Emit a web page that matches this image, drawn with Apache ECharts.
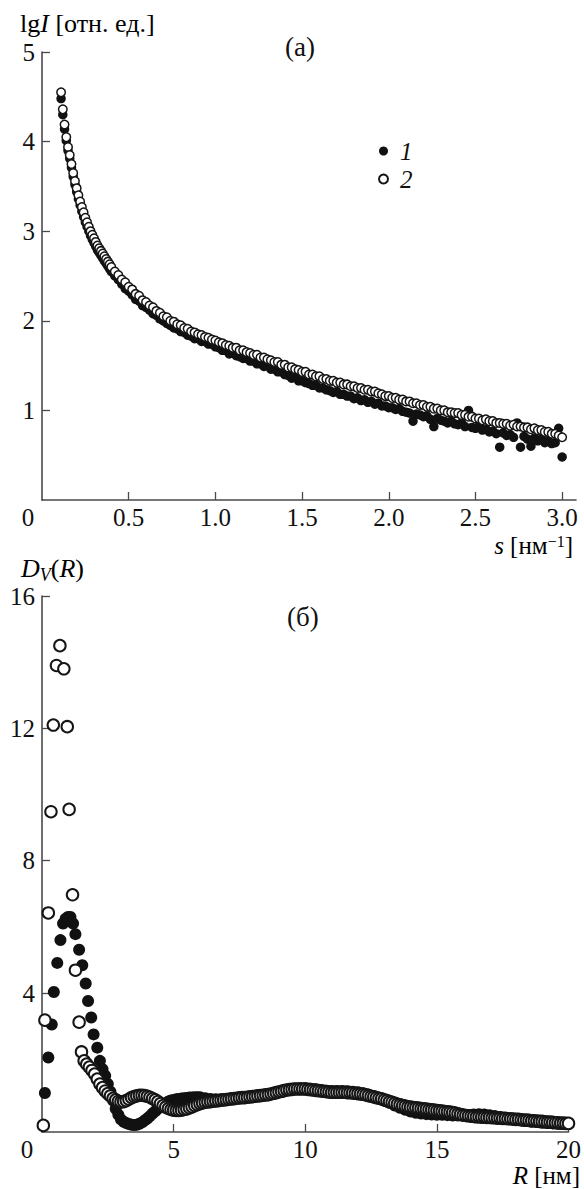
<!DOCTYPE html>
<html><head><meta charset="utf-8">
<script src="https://cdn.jsdelivr.net/npm/echarts@6/dist/echarts.min.js"></script>
<style>html,body{margin:0;padding:0;background:#fff}#c{width:584px;height:1189px}</style>
</head><body><div id="c"></div>
<script>
// ---------- panel (а): lg I vs s ----------
const sTop = [0.11,0.12,0.13,0.14,0.15,0.16,0.17,0.18,0.19,0.20,0.21,0.22,0.23,0.24,0.25,0.26,0.27,0.28,0.29,0.30,
0.31,0.32,0.33,0.34,0.35,0.36,0.37,0.38,0.39,0.40,
0.42,0.44,0.46,0.48,0.50,0.52,0.54,0.56,0.58,0.60,0.62,0.64,0.66,0.68,0.70,0.72,0.74,0.76,0.78,0.80,
0.82,0.84,0.86,0.88,0.90,0.92,0.94,0.96,0.98,1.00,
1.02,1.04,1.06,1.08,1.10,1.12,1.14,1.16,1.18,1.20,1.22,1.24,1.26,1.28,1.30,1.32,1.34,1.36,1.38,1.40,
1.42,1.44,1.46,1.48,1.50,1.52,1.54,1.56,1.58,1.60,1.62,1.64,1.66,1.68,1.70,1.72,1.74,1.76,1.78,1.80,
1.82,1.84,1.86,1.88,1.90,1.92,1.94,1.96,1.98,2.00,
2.02,2.04,2.06,2.08,2.10,2.12,2.14,2.16,2.18,2.20,2.22,2.24,2.26,2.28,2.30,2.32,2.34,2.36,2.38,2.40,
2.42,2.44,2.46,2.48,2.50,2.52,2.54,2.56,2.58,2.60,2.62,2.64,2.66,2.68,2.70,2.72,2.74,2.76,2.78,2.80,
2.82,2.84,2.86,2.88,2.90,2.92,2.94,2.96,2.98,3.00];
// series 2 (open circles)
const lgI2 = [4.55,4.36,4.19,4.05,3.94,3.85,3.75,3.65,3.56,3.48,3.40,3.33,3.27,3.21,3.15,3.10,3.05,3.00,2.96,2.92,
2.88,2.84,2.81,2.78,2.75,2.72,2.69,2.66,2.63,2.60,
2.55,2.51,2.46,2.43,2.38,2.35,2.30,2.28,2.23,2.21,2.17,2.15,2.11,2.09,2.05,2.04,2.00,1.99,1.96,1.95,
1.92,1.91,1.88,1.87,1.85,1.84,1.82,1.81,1.79,1.78,
1.76,1.75,1.73,1.72,1.70,1.70,1.67,1.67,1.65,1.64,1.62,1.62,1.59,1.59,1.57,1.56,1.54,1.54,1.51,1.51,
1.48,1.48,1.46,1.45,1.43,1.43,1.40,1.40,1.38,1.38,1.35,1.35,1.33,1.33,1.31,1.31,1.29,1.29,1.27,1.27,
1.25,1.25,1.23,1.23,1.21,1.21,1.19,1.18,1.16,1.16,
1.14,1.14,1.12,1.12,1.10,1.10,1.08,1.08,1.06,1.06,1.04,1.04,1.02,1.02,1.00,1.00,0.98,0.98,0.97,0.97,
0.95,0.95,0.93,0.93,0.91,0.91,0.89,0.90,0.88,0.88,0.86,0.86,0.85,0.85,0.83,0.84,0.82,0.82,0.81,0.81,
0.79,0.80,0.78,0.78,0.76,0.76,0.74,0.74,0.72,0.70];
// series 1 (filled circles)
const lgI1 = [4.48,4.30,4.14,4.01,3.90,3.81,3.71,3.61,3.52,3.44,3.36,3.29,3.22,3.16,3.10,3.05,3.00,2.95,2.91,2.87,
2.83,2.79,2.76,2.73,2.70,2.67,2.64,2.61,2.58,2.55,
2.50,2.46,2.41,2.36,2.33,2.29,2.24,2.22,2.17,2.15,2.12,2.08,2.06,2.02,2.00,1.97,1.95,1.92,1.91,1.88,
1.87,1.84,1.83,1.80,1.80,1.77,1.77,1.74,1.74,1.71,
1.70,1.67,1.67,1.63,1.64,1.61,1.60,1.58,1.58,1.55,1.55,1.52,1.52,1.49,1.50,1.46,1.46,1.43,1.43,1.40,
1.39,1.36,1.37,1.33,1.33,1.31,1.30,1.28,1.28,1.25,1.25,1.23,1.22,1.20,1.21,1.18,1.18,1.16,1.16,1.13,
1.14,1.11,1.12,1.09,1.10,1.07,1.08,1.05,1.05,1.03,
1.03,1.01,1.02,0.99,0.98,0.97,0.88,0.96,0.95,0.93,0.94,0.90,0.82,0.91,0.89,0.88,0.86,0.88,0.85,0.84,
0.86,0.82,1.00,0.81,0.80,0.82,0.78,0.79,0.76,0.77,0.74,0.59,0.75,0.72,0.73,0.70,0.86,0.59,0.71,0.68,
0.60,0.69,0.66,0.68,0.64,0.66,0.63,0.64,0.80,0.48];

// ---------- panel (б): D_V(R) vs R ----------
const rOpen = [0.05,0.11,0.24,0.34,0.43,0.55,0.68,0.83,0.96,1.03,1.16,1.27,1.41,1.50,1.60,1.70,1.80,1.90,
2.0,2.1,2.2,2.3,2.4,2.5,2.6,2.7,2.8,2.9,3.0,3.1,3.2,3.3,3.4,3.5,3.6,3.7,3.8,3.9,
4.0,4.1,4.2,4.3,4.4,4.5,4.6,4.7,4.8,4.9,5.0,5.1,5.2,5.3,5.4,5.5,5.6,5.7,5.8,5.9,
6.0,6.1,6.2,6.3,6.4,6.5,6.6,6.7,6.8,6.9,7.0,7.1,7.2,7.3,7.4,7.5,7.6,7.7,7.8,7.9,
8.0,8.1,8.2,8.3,8.4,8.5,8.6,8.7,8.8,8.9,9.0,9.1,9.2,9.3,9.4,9.5,9.6,9.7,9.8,9.9,
10.0,10.1,10.2,10.3,10.4,10.5,10.6,10.7,10.8,10.9,11.0,11.1,11.2,11.3,11.4,11.5,11.6,11.7,11.8,11.9,
12.0,12.1,12.2,12.3,12.4,12.5,12.6,12.7,12.8,12.9,13.0,13.1,13.2,13.3,13.4,13.5,13.6,13.7,13.8,13.9,
14.0,14.1,14.2,14.3,14.4,14.5,14.6,14.7,14.8,14.9,15.0,15.1,15.2,15.3,15.4,15.5,15.6,15.7,15.8,15.9,
16.0,16.1,16.2,16.3,16.4,16.5,16.6,16.7,16.8,16.9,17.0,17.1,17.2,17.3,17.4,17.5,17.6,17.7,17.8,17.9,
18.0,18.1,18.2,18.3,18.4,18.5,18.6,18.7,18.8,18.9,19.0,19.1,19.2,19.3,19.4,19.5,19.6,19.7,19.8,19.9,20.0];
const dOpen = [0.00,3.18,6.42,9.48,12.1,13.9,14.5,13.8,12.05,9.55,6.97,4.69,3.12,2.22,1.95,1.85,1.76,1.66,
1.55,1.40,1.25,1.14,1.04,0.96,0.89,0.82,0.77,0.73,0.71,0.72,0.75,0.79,0.84,0.87,0.89,0.91,0.91,0.90,
0.88,0.85,0.81,0.77,0.72,0.66,0.60,0.55,0.51,0.48,0.46,0.45,0.45,0.46,0.48,0.50,0.53,0.56,0.60,0.63,
0.66,0.68,0.70,0.71,0.72,0.73,0.74,0.75,0.76,0.77,0.78,0.79,0.80,0.81,0.82,0.83,0.84,0.84,0.85,0.86,
0.87,0.88,0.89,0.90,0.91,0.92,0.93,0.95,0.97,0.99,1.01,1.03,1.05,1.07,1.08,1.09,1.10,1.10,1.10,1.10,
1.10,1.09,1.08,1.07,1.06,1.05,1.04,1.03,1.02,1.01,1.00,1.00,1.00,1.00,1.00,1.00,0.99,0.99,0.98,0.97,
0.96,0.95,0.94,0.92,0.90,0.88,0.86,0.84,0.82,0.80,0.77,0.75,0.72,0.70,0.67,0.64,0.62,0.60,0.58,0.56,
0.55,0.54,0.53,0.52,0.51,0.50,0.49,0.48,0.47,0.46,0.45,0.44,0.43,0.42,0.41,0.40,0.39,0.37,0.35,0.33,
0.31,0.30,0.29,0.28,0.27,0.26,0.26,0.25,0.25,0.24,0.24,0.23,0.23,0.22,0.22,0.21,0.21,0.20,0.20,0.19,
0.18,0.18,0.17,0.16,0.16,0.15,0.14,0.14,0.13,0.12,0.12,0.11,0.10,0.10,0.09,0.08,0.08,0.07,0.07,0.06,0.06];
const rFilled = [0.11,0.24,0.37,0.45,0.58,0.70,0.80,0.90,0.99,1.08,1.18,1.27,1.41,1.53,1.66,1.75,1.87,1.96,
2.1,2.2,2.3,2.4,2.5,2.6,2.7,2.8,2.9,3.0,3.1,3.2,3.3,3.4,3.5,3.6,3.7,3.8,3.9,
4.0,4.1,4.2,4.3,4.4,4.5,4.6,4.7,4.8,4.9,5.0,5.1,5.2,5.3,5.4,5.5,5.6,5.7,5.8,5.9,6.0,
6.2,6.4,6.6,6.8,7.0,7.2,7.4,7.6,7.8,8.0,8.2,8.4,8.6,8.8,9.0,9.2,9.4,9.6,9.8,10.0,
10.2,10.4,10.6,10.8,11.0,11.2,11.4,11.6,11.8,12.0,12.2,12.4,12.6,12.8,13.0,13.2,13.4,13.6,13.8,14.0,
14.2,14.4,14.6,14.8,15.0,15.2,15.4,15.6,15.8,16.0,16.2,16.4,16.6,16.8,17.0,17.2,17.4,17.6,17.8,18.0,
18.2,18.4,18.6,18.8,19.0,19.2,19.4,19.6,19.8,20.0];
const dFilled = [0.98,2.05,3.05,4.03,4.91,5.60,6.10,6.25,6.30,6.30,6.10,5.78,5.31,4.84,4.29,3.76,3.26,2.75,
2.35,1.95,1.70,1.50,1.25,1.02,0.75,0.50,0.32,0.18,0.11,0.07,0.04,0.02,0.01,0.02,0.05,0.09,0.15,
0.21,0.28,0.36,0.43,0.50,0.56,0.62,0.67,0.72,0.75,0.77,0.79,0.80,0.81,0.82,0.83,0.84,0.84,0.85,0.85,0.85,
0.82,0.80,0.79,0.79,0.80,0.81,0.83,0.85,0.86,0.88,0.90,0.92,0.95,0.98,1.02,1.06,1.09,1.11,1.12,1.12,
1.11,1.09,1.07,1.05,1.04,1.04,1.04,1.03,1.02,1.00,0.97,0.93,0.88,0.82,0.75,0.68,0.60,0.53,0.47,0.42,
0.38,0.36,0.34,0.33,0.32,0.32,0.31,0.30,0.30,0.30,0.31,0.33,0.34,0.33,0.31,0.28,0.25,0.22,0.19,0.17,
0.15,0.13,0.11,0.10,0.08,0.07,0.06,0.05,0.05,0.04];

const xTicksTop = [0,0.5,1.0,1.5,2.0,2.5,3.0];
const yTicksTop = [1,2,3,4,5];
const xTicksBot = [0,5,10,15,20];
const yTicksBot = [4,8,12,16];

const FONT = "Liberation Serif, Times New Roman, serif";
const AX = '#4a4a4a';
const TXT = '#111';
const FS = 25;
const base = {fontFamily: FONT, fontSize: FS, color: TXT};
const baseT = {fontFamily: FONT, fontSize: 26, color: TXT};

function axisCommon(){
  return {
    axisLine:{show:true,onZero:false,lineStyle:{color:AX,width:1.6}},
    splitLine:{show:false},
  };
}
function xAxisDef(gi,min,max,ticks,fmt,zeroPad){
  return Object.assign(axisCommon(),{
    type:'value',gridIndex:gi,min:min,max:max,
    axisTick:{show:true,inside:true,length:8,lineStyle:{color:AX,width:1.3},customValues:ticks.filter(v=>v!==0)},
    axisLabel:{customValues:ticks,margin:5,fontFamily:FONT,fontSize:FS,color:TXT,
      formatter:function(v){return v===0?'{z|0}':fmt(v);},
      rich:{z:Object.assign({padding:[0,zeroPad,0,0]},base)}}
  });
}
function yAxisDef(gi,min,max,ticks){
  return Object.assign(axisCommon(),{
    type:'value',gridIndex:gi,min:min,max:max,
    axisTick:{show:true,inside:true,length:8,lineStyle:{color:AX,width:1.3},customValues:ticks},
    axisLabel:{customValues:ticks,margin:7,fontFamily:FONT,fontSize:FS,color:TXT}
  });
}

const openStyleTop = {color:'#fff',borderColor:'#151515',borderWidth:1.5,opacity:1};
const openStyleBot = {color:'#fff',borderColor:'#151515',borderWidth:2,opacity:1};
const fillStyle = {color:'#111',borderColor:'#111',borderWidth:0,opacity:1};

const chart = echarts.init(document.getElementById('c'),null,{renderer:'svg'});
chart.setOption({
  animation:false,
  backgroundColor:'#fff',
  textStyle:{fontFamily:FONT},
  grid:[
    {left:42,top:52,width:534,height:448},
    {left:42,top:596,width:530,height:536}
  ],
  xAxis:[
    xAxisDef(0,0,3.08,xTicksTop,v=>v.toFixed(1),28),
    xAxisDef(1,0,20,xTicksBot,v=>String(v),30)
  ],
  yAxis:[
    yAxisDef(0,0,5,yTicksTop),
    yAxisDef(1,-0.2,16,yTicksBot)
  ],
  legend:{
    orient:'vertical',left:373,top:133,itemGap:2,itemWidth:9,itemHeight:9,
    data:['1','2'],selectedMode:false,
    textStyle:{fontFamily:FONT,fontSize:FS,fontStyle:'italic',color:TXT,padding:[0,0,0,7],lineHeight:26}
  },
  series:[
    {name:'1',type:'scatter',xAxisIndex:0,yAxisIndex:0,symbol:'circle',symbolSize:9.5,
      itemStyle:fillStyle,data:sTop.map((s,i)=>[s,lgI1[i]]),silent:true},
    {name:'2',type:'scatter',xAxisIndex:0,yAxisIndex:0,symbol:'circle',symbolSize:8.5,
      itemStyle:openStyleTop,data:sTop.map((s,i)=>[s,lgI2[i]]),silent:true},
    {name:'1',type:'scatter',xAxisIndex:1,yAxisIndex:1,symbol:'circle',symbolSize:12,
      itemStyle:fillStyle,data:rFilled.map((r,i)=>[r,dFilled[i]]),silent:true},
    {name:'2',type:'scatter',xAxisIndex:1,yAxisIndex:1,symbol:'circle',symbolSize:11.5,
      itemStyle:openStyleBot,data:rOpen.map((r,i)=>[r,dOpen[i]]),silent:true}
  ],
  graphic:[
    {type:'text',left:20,top:10,style:{text:'{n|lg}{i|I}{n| [отн. ед.]}',
      rich:{n:Object.assign({lineHeight:28},baseT),i:Object.assign({fontStyle:'italic',lineHeight:28},baseT)}}},
    {type:'text',left:285,top:33,style:{text:'(а)',fontFamily:FONT,fontSize:27,fill:TXT}},
    {type:'text',right:11,top:533,style:{text:'{i|s}{n| [нм}{sup|−1}{n|]}',
      rich:{n:Object.assign({lineHeight:25},base),i:Object.assign({fontStyle:'italic',lineHeight:25},base),
        sup:{fontFamily:FONT,fontSize:16,color:TXT,lineHeight:13,verticalAlign:'top'}}}},
    {type:'text',left:21,top:555,style:{text:'{i|D}{sub|V}{n|(}{i|R}{n|)}',
      rich:{n:Object.assign({lineHeight:31},baseT),i:Object.assign({fontStyle:'italic',lineHeight:31},baseT),
        sub:{fontFamily:FONT,fontSize:18,fontStyle:'italic',color:TXT,lineHeight:16,verticalAlign:'bottom'}}}},
    {type:'text',left:287,top:603,style:{text:'(б)',fontFamily:FONT,fontSize:27,fill:TXT}},
    {type:'text',right:4,top:1163,style:{text:'{i|R}{n| [нм]}',
      rich:{n:Object.assign({lineHeight:25},base),i:Object.assign({fontStyle:'italic',lineHeight:25},base)}}}
  ]
});
</script>
</body></html>
